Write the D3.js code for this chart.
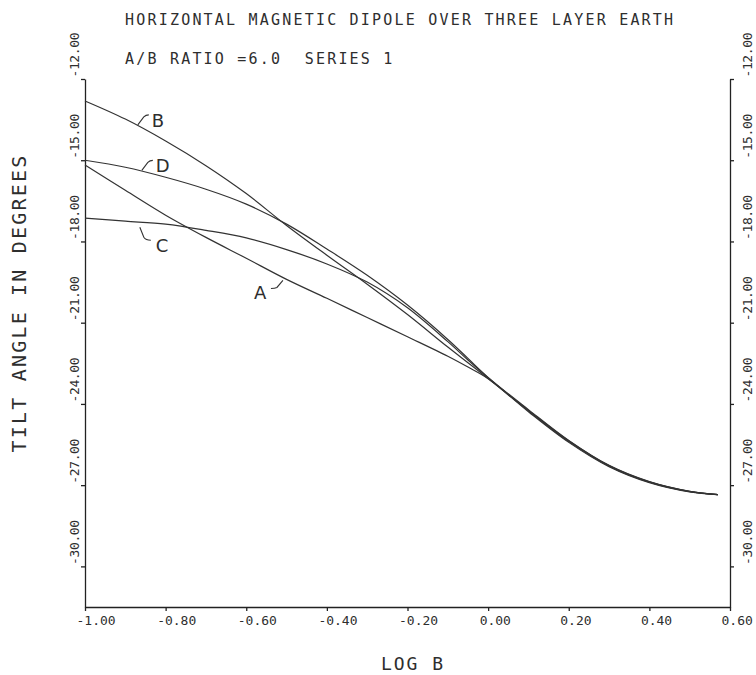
<!DOCTYPE html>
<html>
<head>
<meta charset="utf-8">
<script src="https://cdn.jsdelivr.net/npm/d3@7"></script>
<style>
    html, body { margin: 0; padding: 0; background: #fff; }
    #tilt-chart { width: 756px; height: 675px; }
    text { font-family: "DejaVu Sans Mono", monospace; fill: #2e2e2e; }
</style>
</head>
<body>
<div id="tilt-chart"></div>
<script>
// log B values at which the curves were read
const logB = [-1.0, -0.9, -0.8, -0.7, -0.6, -0.5, -0.4, -0.3, -0.2, -0.1, -0.05, 0.0, 0.1, 0.2, 0.3, 0.4, 0.5, 0.57];

// tilt angle (degrees) for each curve
const curveA = [-15.18, -16.11, -17.03, -17.85, -18.62, -19.40, -20.10, -20.81, -21.52, -22.24, -22.64, -23.07, -24.29, -25.42, -26.32, -26.91, -27.25, -27.35];
const curveB = [-12.81, -13.48, -14.29, -15.20, -16.23, -17.41, -18.51, -19.58, -20.70, -21.90, -22.48, -23.06, -24.24, -25.36, -26.28, -26.88, -27.23, -27.35];
const curveC = [-17.14, -17.25, -17.36, -17.59, -17.87, -18.30, -18.83, -19.50, -20.45, -21.70, -22.38, -23.03, -24.25, -25.39, -26.30, -26.89, -27.24, -27.35];
const curveD = [-15.00, -15.26, -15.63, -16.07, -16.62, -17.36, -18.28, -19.25, -20.35, -21.62, -22.32, -23.02, -24.21, -25.35, -26.27, -26.87, -27.23, -27.35];

const seriesNames = ["A", "B", "C", "D"];
// log B where each curve letter is attached
const labelAt = [-0.509, -0.869, -0.864, -0.859];

const xTicks = [-1.0, -0.8, -0.6, -0.4, -0.2, 0.0, 0.2, 0.4, 0.6];
const yTicks = [-12, -15, -18, -21, -24, -27, -30];

const titleText = "HORIZONTAL MAGNETIC DIPOLE OVER THREE LAYER EARTH";
const subtitleText = "A/B RATIO =6.0  SERIES 1";

document.addEventListener('DOMContentLoaded', () => {
    const width = 756;
    const height = 675;
    const margin = { top: 79, right: 26, bottom: 68, left: 85 };
    const innerWidth = width - margin.left - margin.right;
    const innerHeight = height - margin.top - margin.bottom;

    const svg = d3.select("#tilt-chart")
        .append("svg")
        .attr("width", width)
        .attr("height", height);

    const g = svg.append("g")
        .attr("transform", `translate(${margin.left}, ${margin.top})`);

    const xScale = d3.scaleLinear().domain([-1.0, 0.6]).range([0, innerWidth]);
    const yScale = d3.scaleLinear().domain([-12, -31.5]).range([0, innerHeight]);

    const series = [curveA, curveB, curveC, curveD].map((vals, i) => ({
        name: seriesNames[i],
        points: vals.map((v, j) => ({ x: logB[j], y: v }))
    }));

    // axes
    const fmt = d => d.toFixed(2);

    const xAxis = g.append("g")
        .attr("transform", `translate(0, ${innerHeight})`)
        .call(d3.axisBottom(xScale).tickValues(xTicks).tickFormat(fmt).tickSize(4).tickSizeOuter(0));
    xAxis.selectAll("text")
        .attr("y", 18)
        .attr("dy", 0)
        .attr("x", -9)
        .attr("text-anchor", "start")
        .style("font-size", "13px");

    const yLeft = g.append("g")
        .call(d3.axisLeft(yScale).tickValues(yTicks).tickFormat(fmt).tickSize(4).tickSizeOuter(0));
    yLeft.selectAll("text")
        .attr("x", 0).attr("y", 0).attr("dy", 0)
        .attr("transform", "translate(-6, -2) rotate(-90)")
        .attr("text-anchor", "start")
        .style("font-size", "13px")
        .style("letter-spacing", "-0.4px");

    const yRight = g.append("g")
        .attr("transform", `translate(${innerWidth}, 0)`)
        .call(d3.axisRight(yScale).tickValues(yTicks).tickFormat(fmt).tickSize(4).tickSizeOuter(0));
    yRight.selectAll("text")
        .attr("x", 0).attr("y", 0).attr("dy", 0)
        .attr("transform", "translate(22, -2) rotate(-90)")
        .attr("text-anchor", "start")
        .style("font-size", "13px")
        .style("letter-spacing", "-0.4px");

    g.selectAll(".domain, .tick line")
        .attr("stroke", "#222")
        .attr("stroke-width", 1.3);

    // curves
    const line = d3.line()
        .x(d => xScale(d.x))
        .y(d => yScale(d.y))
        .curve(d3.curveCatmullRom.alpha(0.5));

    g.selectAll(".tilt-curve")
        .data(series)
        .enter()
        .append("path")
        .attr("class", "tilt-curve")
        .attr("d", d => line(d.points))
        .attr("fill", "none")
        .attr("stroke", "#333")
        .attr("stroke-width", 1.2);

    // curve letters with small leaders
    const valueAt = (pts, x) => {
        const i = d3.bisector(d => d.x).right(pts, x);
        const a = pts[Math.max(0, i - 1)], b = pts[Math.min(pts.length - 1, i)];
        const t = b.x === a.x ? 0 : (x - a.x) / (b.x - a.x);
        return a.y + t * (b.y - a.y);
    };

    series.forEach((s, i) => {
        const cx = xScale(labelAt[i]);
        const cy = yScale(valueAt(s.points, labelAt[i]));
        let leader, tx, ty;
        if (s.name === "A") {
            leader = `M${cx},${cy + 3} L${cx - 6},${cy + 10} Q${cx - 8},${cy + 11} ${cx - 12},${cy + 11}`;
            tx = cx - 29; ty = cy + 22;
        } else if (s.name === "C") {
            leader = `M${cx},${cy + 5} L${cx + 4},${cy + 15} Q${cx + 6},${cy + 18} ${cx + 11},${cy + 18}`;
            tx = cx + 16; ty = cy + 30;
        } else {
            leader = `M${cx},${cy - 1} L${cx + 6},${cy - 9} Q${cx + 8},${cy - 11} ${cx + 11},${cy - 11}`;
            tx = cx + 14; ty = cy + 1;
        }
        g.append("path")
            .attr("d", leader)
            .attr("fill", "none")
            .attr("stroke", "#333")
            .attr("stroke-width", 1.1);
        g.append("text")
            .attr("x", tx)
            .attr("y", ty)
            .style("font-family", "'DejaVu Sans', sans-serif")
            .style("font-size", "18px")
            .text(s.name);
    });

    // titles
    svg.append("text")
        .attr("x", 125)
        .attr("y", 25)
        .style("font-size", "15px")
        .style("letter-spacing", "2.2px")
        .text(titleText);

    svg.append("text")
        .attr("x", 125)
        .attr("y", 64)
        .style("font-size", "15px")
        .style("letter-spacing", "2.2px")
        .style("white-space", "pre")
        .text(subtitleText);

    // axis titles
    svg.append("text")
        .attr("x", 413)
        .attr("y", 670)
        .attr("text-anchor", "middle")
        .style("font-size", "18px")
        .style("letter-spacing", "2px")
        .text("LOG B");

    svg.append("text")
        .attr("transform", "translate(26, 303) rotate(-90)")
        .attr("text-anchor", "middle")
        .style("font-size", "20px")
        .style("letter-spacing", "2.2px")
        .text("TILT ANGLE IN DEGREES");
});
</script>
</body>
</html>
